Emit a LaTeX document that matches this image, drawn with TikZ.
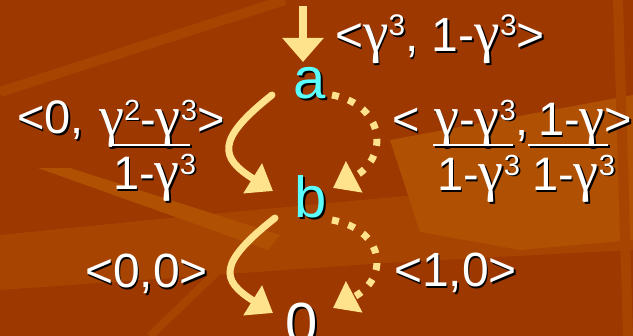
\documentclass[tikz,border=0pt]{standalone}
\usepackage{fontspec}
\setmainfont{Liberation Sans}
\newfontfamily\gfont[Scale=1.2]{Liberation Serif}
\usetikzlibrary{arrows.meta,calc}
\definecolor{bgc}{RGB}{156,56,0}
\definecolor{bgm}{RGB}{167,68,2}
\definecolor{bgl}{RGB}{176,80,3}
\definecolor{arr}{RGB}{255,226,140}
\definecolor{cy}{RGB}{90,255,255}
\newcommand\gm{{\gfont γ}}
\newcommand\cube[1]{\raisebox{0.34em}{\scalebox{0.62}{#1}}}
\newcommand\shd[1]{\rlap{\kern1.6pt\raisebox{-1.6pt}{\color{black}#1}}#1}
\begin{document}
\begin{tikzpicture}[x=1pt,y=-1pt,
  lab/.style={inner sep=0pt, anchor=base west, text=white, font=\fontsize{47}{52}\selectfont},
  labb/.style={lab, font=\fontsize{48}{54}\selectfont},
  st/.style={font=\fontsize{58}{64}\selectfont, inner sep=0pt, anchor=base},
  sol/.style={draw=arr, line width=7pt, line cap=round, -{Triangle[length=24pt,width=34pt]}},
  dotl/.style={draw=arr, line width=7pt, dash pattern=on 7pt off 10pt, -{Triangle[length=24pt,width=34pt]}},
  frl/.style={line width=2.4pt, white},
  frs/.style={line width=2.4pt, black}
]
\useasboundingbox (0,0) rectangle (633,336);
% background
\fill[bgc] (0,0) rectangle (633,336);
\fill[bgm] (0,235) -- (200,215) -- (633,175) -- (633,250) -- (400,262) -- (0,290) -- cycle;
\fill[bgl] (390,140) -- (633,95) -- (633,240) -- (520,250) -- (420,232) -- cycle;
\fill[bgl] (38,168) -- (70,168) -- (280,235) -- (268,250) -- cycle;
\draw[bgm, line width=10pt] (0,92) -- (285,0);
\draw[bgm, line width=8pt] (150,336) -- (245,245);
\draw[bgm, line width=10pt] (618,0) -- (628,336);
% state nodes
\node[st, text=cy] (a) at (310,99) {\rlap{\kern2pt\raisebox{-2pt}{\color{black}a}}a};
\node[st, text=cy] (b) at (311,218) {\rlap{\kern2pt\raisebox{-2pt}{\color{black}b}}b};
\node[st, text=white] (z) at (302,343.5) {\shd{0}};
% labels
\node[labb] (lt) at (335,52) {\shd{<\gm\cube{3}, 1-\gm\cube{3}>}};
\node[lab] (l1) at (17,134) {\shd{<0,}};
\node[lab] (l1n) at (99,136) {\shd{\gm\cube{2}-\gm\cube{3}>}};
\node[lab] (l1d) at (113,190) {\shd{1-\gm\cube{3}}};
\node[lab] (r0) at (392,136) {\shd{<}};
\node[lab] (r1n) at (434,136) {\shd{\gm-\gm\cube{3},}};
\node[lab] (r1d) at (437,191) {\shd{1-\gm\cube{3}}};
\node[lab] (r2n) at (538,136) {\shd{1-\gm>}};
\node[lab] (r2d) at (532,191) {\shd{1-\gm\cube{3}}};
\node[labb] (ll) at (85,288) {\shd{<0,0>}};
\node[labb] (lr) at (394,287) {\shd{<1,0>}};
% fraction lines
\draw[frs] (111.5,146.5) -- (191.5,146.5);
\draw[frl] (110,145) -- (190,145);
\draw[frs] (434.5,146.5) -- (514.5,146.5);
\draw[frl] (433,145) -- (513,145);
\draw[frs] (529.5,146.5) -- (609.5,146.5);
\draw[frl] (528,145) -- (608,145);
% connectors
\coordinate (in) at (303,6);
\draw[arr, line width=8pt, -{Triangle[length=24pt,width=40pt]}] (in) -- ($(a.base)+(-7,-37)$);
\draw[sol] ($(a.base)+(-38,-4)$) .. controls +(-57,45) and +(-53,-33) .. ($(b.base)+(-38,-27)$);
\draw[dotl] ($(a.base)+(22,-4)$) .. controls +(53,10) and +(57,-30) .. ($(b.base)+(22,-30)$);
\draw[sol] ($(b.base)+(-36,0)$) .. controls +(-57,45) and +(-53,-33) .. ($(z.base)+(-29,-30.5)$);
\draw[dotl] ($(b.base)+(21,2)$) .. controls +(53,10) and +(57,-30) .. ($(z.base)+(31,-35.5)$);
\end{tikzpicture}
\end{document}
